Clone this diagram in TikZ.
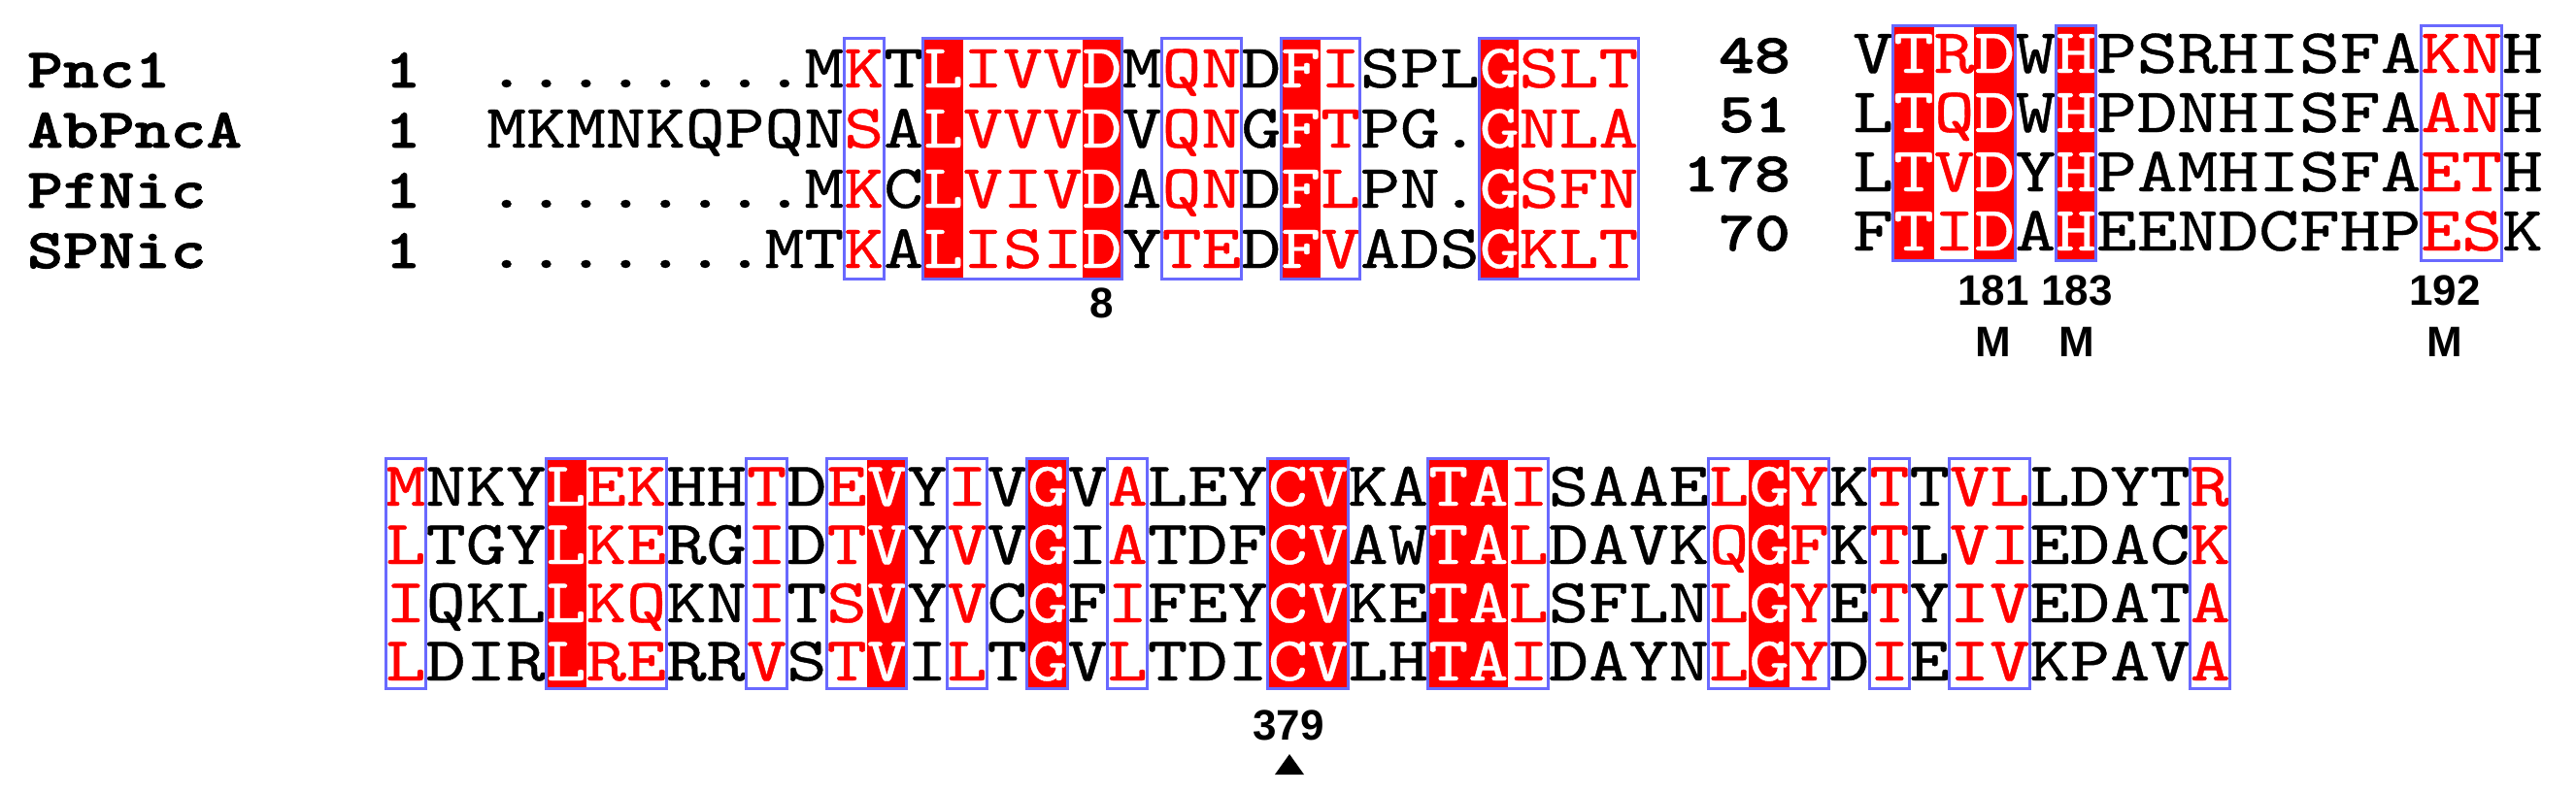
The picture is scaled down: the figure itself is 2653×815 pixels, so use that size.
\documentclass[tikz,border=0pt]{standalone}
\usepackage{fontspec}
\newfontfamily\seqfont{lmmono10-regular.otf}[FakeStretch=1.22,FakeBold=0.6]
\newfontfamily\namefont{lmmonolt10-bold.otf}[FakeStretch=1.22,FakeBold=1.6]
\newfontfamily\lblfont{Liberation Sans}
\definecolor{boxblue}{RGB}{105,105,255}
\definecolor{seqred}{RGB}{255,0,0}
\newcommand\cK{\color{black}}
\newcommand\cR{\color{seqred}}
\newcommand\cW{\color{white}}
\tikzset{
  resfill/.style={fill=seqred},
  resbox/.style={draw=boxblue, line width=3pt},
  seqA/.style={font=\seqfont\fontsize{63.86}{80}\selectfont, anchor=base west, inner sep=0pt},
  seqB/.style={font=\seqfont\fontsize{65.26}{80}\selectfont, anchor=base west, inner sep=0pt},
  seqC/.style={font=\seqfont\fontsize{64.48}{80}\selectfont, anchor=base west, inner sep=0pt},
  seqname/.style={font=\namefont\fontsize{57.5}{70}\selectfont, anchor=base west, inner sep=0pt},
  seqnum/.style={font=\namefont\fontsize{57.5}{70}\selectfont, inner sep=0pt},
  lbl/.style={font=\lblfont\bfseries\fontsize{44}{50}\selectfont, inner sep=0pt},
}
\begin{document}
\begin{tikzpicture}[x=1pt,y=-1pt]
\fill[white] (0,0) rectangle (2653,815);
\useasboundingbox (0,0) rectangle (2653,815);

% ---------- Block 1 ----------
\def\xL{501}\def\xW{40.9}\def\yT{39}\def\yB{287}
\foreach \c in {12,16,21,26}
  \fill[resfill] ({\xL+(\c-1)*\xW},\yT) rectangle ({\xL+\c*\xW},\yB);
\node[seqname] (n1) at (28,90) {Pnc1};
\node[seqname] (n2) at (28,152) {AbPncA};
\node[seqname] (n3) at (28,214) {PfNic};
\node[seqname] (n4) at (28,276) {SPNic};
\node[seqnum, anchor=base] (s1) at (415,90) {1};
\node[seqnum, anchor=base] (s2) at (415,152) {1};
\node[seqnum, anchor=base] (s3) at (415,214) {1};
\node[seqnum, anchor=base] (s4) at (415,276) {1};
\node[seqA] (a1) at (\xL,90) {\cK........M\cR K\cK T\cW L\cR IVV\cW D\cK M\cR QN\cK D\cW F\cR I\cK SPL\cW G\cR SLT};
\node[seqA] (a2) at (\xL,152) {\cK MKMNKQPQN\cR S\cK A\cW L\cR VVV\cW D\cK V\cR QN\cK G\cW F\cR T\cK PG.\cW G\cR NLA};
\node[seqA] (a3) at (\xL,214) {\cK........M\cR K\cK C\cW L\cR VIV\cW D\cK A\cR QN\cK D\cW F\cR L\cK PN.\cW G\cR SFN};
\node[seqA] (a4) at (\xL,276) {\cK.......MT\cR K\cK A\cW L\cR ISI\cW D\cK Y\cR TE\cK D\cW F\cR V\cK ADS\cW G\cR KLT};
\foreach \a/\b in {10/10,12/16,18/19,21/22,26/29}
  \draw[resbox] ({\xL+(\a-1)*\xW},\yT) rectangle ({\xL+\b*\xW},\yB);
\node[lbl] (l8) at (1135,312) {8};

% ---------- Block 2 ----------
\def\xL{1908}\def\xW{41.8}\def\yT{26}\def\yB{268}
\foreach \c in {2,4,6}
  \fill[resfill] ({\xL+(\c-1)*\xW},\yT) rectangle ({\xL+\c*\xW},\yB);
\node[seqnum, anchor=base east] (m1) at (1844,75) {48};
\node[seqnum, anchor=base east] (m2) at (1844,136) {51};
\node[seqnum, anchor=base east] (m3) at (1844,197) {178};
\node[seqnum, anchor=base east] (m4) at (1844,258) {70};
\node[seqB] (b1) at (\xL,75) {\cK V\cW T\cR R\cW D\cK W\cW H\cK PSRHISFA\cR KN\cK H};
\node[seqB] (b2) at (\xL,136) {\cK L\cW T\cR Q\cW D\cK W\cW H\cK PDNHISFA\cR AN\cK H};
\node[seqB] (b3) at (\xL,197) {\cK L\cW T\cR V\cW D\cK Y\cW H\cK PAMHISFA\cR ET\cK H};
\node[seqB] (b4) at (\xL,258) {\cK F\cW T\cR I\cW D\cK A\cW H\cK EENDCFHP\cR ES\cK K};
\foreach \a/\b in {2/4,6/6,15/16}
  \draw[resbox] ({\xL+(\a-1)*\xW},\yT) rectangle ({\xL+\b*\xW},\yB);
\node[lbl] (l181) at (2053,299) {181};
\node[lbl] (l183) at (2139,299) {183};
\node[lbl] (l192) at (2518,299) {192};
\node[lbl] (mm1) at (2053,352) {M};
\node[lbl] (mm2) at (2139,352) {M};
\node[lbl] (mm3) at (2518,352) {M};

% ---------- Block 3 ----------
\def\xL{397}\def\xW{41.3}\def\yT{472}\def\yB{709}
\foreach \c in {5,13,17,23,24,27,28,35}
  \fill[resfill] ({\xL+(\c-1)*\xW},\yT) rectangle ({\xL+\c*\xW},\yB);
\node[seqC] (c1) at (\xL,521) {\cR M\cK NKY\cW L\cR EK\cK HH\cR T\cK D\cR E\cW V\cK Y\cR I\cK V\cW G\cK V\cR A\cK LEY\cW CV\cK KA\cW TA\cR I\cK SAAE\cR L\cW G\cR Y\cK K\cR T\cK T\cR VL\cK LDYT\cR R};
\node[seqC] (c2) at (\xL,581) {\cR L\cK TGY\cW L\cR KE\cK RG\cR I\cK D\cR T\cW V\cK Y\cR V\cK V\cW G\cK I\cR A\cK TDF\cW CV\cK AW\cW TA\cR L\cK DAVK\cR Q\cW G\cR F\cK K\cR T\cK L\cR VI\cK EDAC\cR K};
\node[seqC] (c3) at (\xL,641) {\cR I\cK QKL\cW L\cR KQ\cK KN\cR I\cK T\cR S\cW V\cK Y\cR V\cK C\cW G\cK F\cR I\cK FEY\cW CV\cK KE\cW TA\cR L\cK SFLN\cR L\cW G\cR Y\cK E\cR T\cK Y\cR IV\cK EDAT\cR A};
\node[seqC] (c4) at (\xL,701) {\cR L\cK DIR\cW L\cR RE\cK RR\cR V\cK S\cR T\cW V\cK I\cR L\cK T\cW G\cK V\cR L\cK TDI\cW CV\cK LH\cW TA\cR I\cK DAYN\cR L\cW G\cR Y\cK D\cR I\cK E\cR IV\cK KPAV\cR A};
\foreach \a/\b in {1/1,5/7,10/10,12/13,15/15,17/17,19/19,23/24,27/29,34/36,38/38,40/41,46/46}
  \draw[resbox] ({\xL+(\a-1)*\xW},\yT) rectangle ({\xL+\b*\xW},\yB);
\node[lbl] (l379) at (1327,747) {379};
\fill (1313,798) -- (1343,798) -- (1328,777) -- cycle;
\end{tikzpicture}
\end{document}
